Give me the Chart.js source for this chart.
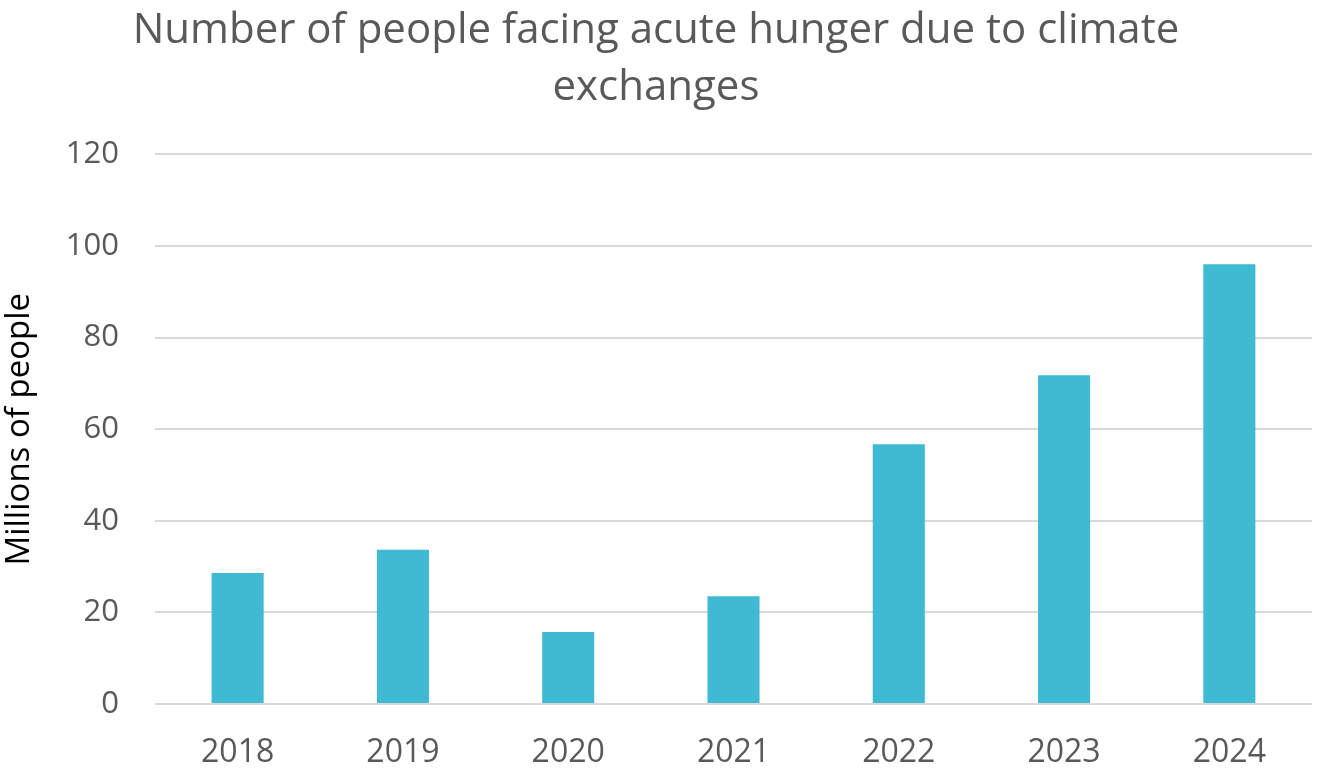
<!DOCTYPE html>
<html lang="en">
<head>
	<title>Acute hunger due to climate</title>
	<script src="https://cdn.jsdelivr.net/npm/chart.js"></script>
	<style>
		html, body { margin: 0; padding: 0; background: #fff; }
	</style>
</head>
<body>
<canvas id="hungerChart" width="1320" height="769"></canvas>

<script>
	const years = ['2018', '2019', '2020', '2021', '2022', '2023', '2024'];
	const millionsOfPeople = [28.6, 33.7, 15.7, 23.5, 56.7, 71.8, 96.0];
	const yTicks = [0, 20, 40, 60, 80, 100, 120];

	const textGrey = '#595959';
	const fontName = "'Open Sans', sans-serif";

	const ctx = document.getElementById('hungerChart').getContext('2d');
	new Chart(ctx, {
		type: 'bar',
		data: {
			labels: years,
			datasets: [{
				label: 'Millions of people',
				data: millionsOfPeople,
				backgroundColor: '#40B9D3',
				categoryPercentage: 1,
				barPercentage: 0.315
			}]
		},
		options: {
			responsive: false,
			animation: false,
			layout: { padding: { left: 0, right: 8, top: 3, bottom: 0 } },
			plugins: {
				legend: { display: false },
				tooltip: { enabled: false },
				title: {
					display: true,
					text: ['Number of people facing acute hunger due to climate', 'exchanges'],
					color: textGrey,
					font: { family: fontName, size: 42, weight: 'normal', lineHeight: 1.35 },
					padding: { top: 0, bottom: 38 }
				}
			},
			scales: {
				x: {
					grid: { display: false, drawTicks: false },
					border: { display: false },
					ticks: { color: textGrey, font: { family: fontName, size: 32 }, padding: 30 },
					afterFit: scale => { scale.height = 65; }
				},
				y: {
					min: 0,
					max: 120,
					afterBuildTicks: scale => { scale.ticks = yTicks.map(v => ({ value: v })); },
					grid: { color: '#d9d9d9', lineWidth: 2, drawTicks: false },
					border: { display: false },
					ticks: { color: textGrey, font: { family: fontName, size: 31 }, padding: 36 },
					title: {
						display: true,
						text: 'Millions of people',
						color: '#000',
						font: { family: fontName, size: 33 },
						padding: { top: 0, bottom: 0 }
					},
					afterFit: scale => { scale.width = 155; }
				}
			}
		}
	});
</script>
</body>
</html>
